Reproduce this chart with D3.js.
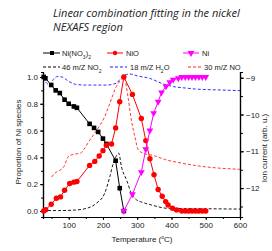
<!DOCTYPE html>
<html>
<head>
<meta charset="utf-8">
<script src="https://d3js.org/d3.v7.min.js"></script>
<style>
  body { margin: 0; background: #fff; }
  svg text { font-family: "Liberation Sans", Arial, sans-serif; fill: #222; }
  .title { font-family: "Open Sans", sans-serif !important; font-style: italic; font-size: 11px; }
  .axis text { font-size: 8px; }
  .axis path, .axis line { stroke: #000; }
</style>
</head>
<body>
<svg id="chart" width="272" height="251"></svg>
<script>
// fractions from the linear combination fit
var tNitrate = [27, 32, 49, 62, 74, 88, 100, 115, 124, 161, 174, 186, 200, 210, 237, 249, 261];
var vNitrate = [1.0, 0.99, 0.94, 0.90, 0.88, 0.83, 0.80, 0.78, 0.77, 0.65, 0.62, 0.59, 0.54, 0.50, 0.375, 0.17, 0.0];
var eNitrate = [0.015, 0.015, 0.012, 0.015, 0.012, 0.015, 0.012, 0.015, 0.015, 0.012, 0.015, 0.012, 0.012, 0.015, 0.015, 0.015, 0.01];

var tNiO = [27, 33, 49, 64, 76, 88, 103, 115, 124, 161, 176, 189, 200, 210, 225, 237, 249, 261, 286, 312, 325, 337, 349, 361, 373, 383, 390, 403, 415, 430, 440, 450, 460, 470, 480, 490, 500];
var vNiO = [0.0, 0.01, 0.05, 0.095, 0.105, 0.155, 0.205, 0.215, 0.22, 0.34, 0.37, 0.41, 0.45, 0.49, 0.50, 0.62, 0.815, 1.0, 0.87, 0.69, 0.525, 0.39, 0.27, 0.16, 0.11, 0.07, 0.045, 0.02, 0.008, 0.0, 0.0, 0.0, 0.0, 0.0, 0.0, 0.0, 0.0];

var tNi = [261, 286, 312, 325, 337, 348, 361, 371, 384, 395, 405, 420, 430, 440, 450, 460, 470, 480, 490, 500];
var vNi = [0.0, 0.125, 0.29, 0.46, 0.60, 0.73, 0.815, 0.885, 0.93, 0.96, 0.98, 0.99, 1.0, 1.0, 1.0, 1.0, 1.0, 1.0, 1.0, 1.0];

// mass spec ion currents (log scale, right axis)
var tNO2 = [25, 70, 113, 152, 181, 205, 220, 230, 241, 246, 254, 269, 283, 298, 310, 342, 390, 488, 600];
var iNO2 = [-12.61, -12.61, -12.6, -12.55, -12.41, -12.14, -11.69, -11.33, -11.1, -11.05, -11.42, -11.78, -12.14, -12.32, -12.37, -12.46, -12.55, -12.56, -12.57];

var tH2O = [33, 45, 55, 65, 80, 100, 120, 150, 180, 210, 239, 250, 262, 278, 300, 337, 376, 405, 440, 473, 530, 600];
var iH2O = [-9.12, -9.2, -9.05, -8.97, -8.98, -9.1, -9.18, -9.2, -9.2, -9.2, -9.15, -9.04, -8.94, -8.9, -8.95, -9.02, -9.17, -9.24, -9.28, -9.31, -9.33, -9.35];

var tNO = [50, 60, 75, 85, 100, 115, 135, 145, 160, 180, 205, 220, 239, 255, 262, 273, 283, 293, 303, 317, 350, 380, 430, 480, 530, 600];
var iNO = [-11.70, -11.59, -11.51, -11.43, -11.13, -11.08, -11.05, -10.94, -10.72, -10.45, -10.06, -9.7, -9.24, -9.04, -8.99, -9.52, -10.15, -10.6, -10.96, -11.05, -11.12, -11.22, -11.32, -11.4, -11.45, -11.49];

var xTicks = [100, 200, 300, 400, 500, 600];
var yTicks = [0, 0.2, 0.4, 0.6, 0.8, 1.0];
var y2Ticks = [-9, -10, -11, -12];

var svg = d3.select("#chart");

var x = d3.scaleLinear().domain([25, 600]).range([43, 240]);
var y = d3.scaleLinear().domain([-0.045, 1.037]).range([217, 72]);
var y2 = d3.scaleLinear().domain([-12.785, -8.845]).range([217, 72]);

// title
svg.append("text").attr("class", "title").attr("x", 53).attr("y", 17).text("Linear combination fitting in the nickel");
svg.append("text").attr("class", "title").attr("x", 53).attr("y", 31).text("NEXAFS region");

// axes
svg.append("g").attr("class", "axis").attr("transform", "translate(0,217)")
  .call(d3.axisBottom(x).tickValues(d3.range(50, 601, 50)).tickSize(2).tickFormat(""));
svg.append("g").attr("class", "axis").attr("transform", "translate(0,217)")
  .call(d3.axisBottom(x).tickValues(xTicks).tickSize(3).tickSizeOuter(0).tickPadding(2));

svg.append("g").attr("class", "axis").attr("transform", "translate(43,0)")
  .call(d3.axisLeft(y).tickValues(d3.range(0, 1.01, 0.1)).tickSize(2).tickFormat(""));
svg.append("g").attr("class", "axis").attr("transform", "translate(43,0)")
  .call(d3.axisLeft(y).tickValues(yTicks).tickSize(3).tickSizeOuter(0).tickPadding(2).tickFormat(d3.format(".1f")));

svg.append("g").attr("class", "axis").attr("transform", "translate(240,0)")
  .call(d3.axisRight(y2).tickValues([-9, -9.5, -10, -10.5, -11, -11.5, -12, -12.5]).tickSize(3).tickFormat(""));
svg.append("g").attr("class", "axis").attr("transform", "translate(240,0)")
  .call(d3.axisRight(y2).tickValues(y2Ticks).tickSize(4).tickSizeOuter(0).tickPadding(2).tickFormat(d3.format("d")));

svg.selectAll(".axis .domain").attr("stroke-width", 1.2);

// axis titles
svg.append("text").attr("transform", "translate(21,142) rotate(-90)")
  .attr("text-anchor", "middle").style("font-size", "8px").text("Proportion of Ni species");
svg.append("text").attr("transform", "translate(267,148) rotate(-90)")
  .attr("text-anchor", "middle").style("font-size", "8px").text("Ion current (arb. u.)");
var xl = svg.append("text").attr("x", 142).attr("y", 242).attr("text-anchor", "middle").style("font-size", "8px");
xl.append("tspan").text("Temperature (");
xl.append("tspan").attr("baseline-shift", "super").style("font-size", "5px").text("o");
xl.append("tspan").text("C)");

// dashed ion current lines
function zipT(ts, vs) { return ts.map(function(t, i) { return [t, vs[i]]; }); }
var line2 = d3.line().x(function(d) { return x(d[0]); }).y(function(d) { return y2(d[1]); }).curve(d3.curveMonotoneX);

svg.append("path").datum(zipT(tNO2, iNO2)).attr("d", line2)
  .attr("fill", "none").attr("stroke", "#000").attr("stroke-width", 0.9).attr("stroke-dasharray", "3,2");
svg.append("path").datum(zipT(tH2O, iH2O)).attr("d", line2)
  .attr("fill", "none").attr("stroke", "#1a1aff").attr("stroke-width", 0.9).attr("stroke-dasharray", "3,2");
svg.append("path").datum(zipT(tNO, iNO)).attr("d", line2)
  .attr("fill", "none").attr("stroke", "#ff2020").attr("stroke-width", 0.9).attr("stroke-dasharray", "3,2");

// fit fractions
var line1 = d3.line().x(function(d) { return x(d[0]); }).y(function(d) { return y(d[1]); });

var nit = zipT(tNitrate, vNitrate);
svg.append("path").datum(nit).attr("d", line1).attr("fill", "none").attr("stroke", "#000").attr("stroke-width", 1);
svg.append("g").selectAll("line").data(nit).join("line")
  .attr("x1", function(d) { return x(d[0]); }).attr("x2", function(d) { return x(d[0]); })
  .attr("y1", function(d, i) { return y(d[1] - eNitrate[i]); })
  .attr("y2", function(d, i) { return y(d[1] + eNitrate[i]); })
  .attr("stroke", "#000").attr("stroke-width", 1);
svg.append("g").selectAll("rect").data(nit).join("rect")
  .attr("x", function(d) { return x(d[0]) - 2.3; }).attr("y", function(d) { return y(d[1]) - 2.3; })
  .attr("width", 4.6).attr("height", 4.6).attr("fill", "#000");

var nio = zipT(tNiO, vNiO);
svg.append("path").datum(nio).attr("d", line1).attr("fill", "none").attr("stroke", "#ff0000").attr("stroke-width", 1);
svg.append("g").selectAll("circle").data(nio).join("circle")
  .attr("cx", function(d) { return x(d[0]); }).attr("cy", function(d) { return y(d[1]); })
  .attr("r", 2.7).attr("fill", "#ff0000");

var ni = zipT(tNi, vNi);
svg.append("path").datum(ni).attr("d", line1).attr("fill", "none").attr("stroke", "#ff00ff").attr("stroke-width", 1);
var tri = d3.symbol().type(d3.symbolTriangle).size(20);
svg.append("g").selectAll("path").data(ni).join("path")
  .attr("d", tri)
  .attr("transform", function(d) { return "translate(" + x(d[0]) + "," + y(d[1]) + ") rotate(180)"; })
  .attr("fill", "#ff00ff");

// legend
function sub(t, main, s) {
  t.append("tspan").text(main);
  t.append("tspan").attr("baseline-shift", "sub").style("font-size", "5px").text(s);
}
var lg = svg.append("g").style("font-size", "7.5px");

lg.append("line").attr("x1", 43).attr("x2", 60).attr("y1", 53).attr("y2", 53).attr("stroke", "#000");
lg.append("rect").attr("x", 50).attr("y", 51).attr("width", 4).attr("height", 4).attr("fill", "#000");
var t1 = lg.append("text").attr("x", 62).attr("y", 56);
sub(t1, "Ni(NO", "3");
t1.append("tspan").text(")");
t1.append("tspan").attr("baseline-shift", "sub").style("font-size", "5px").text("2");

lg.append("line").attr("x1", 107).attr("x2", 123).attr("y1", 53).attr("y2", 53).attr("stroke", "#ff0000");
lg.append("circle").attr("cx", 115).attr("cy", 53).attr("r", 2.2).attr("fill", "#ff0000");
lg.append("text").attr("x", 126).attr("y", 56).text("NiO");

lg.append("line").attr("x1", 183).attr("x2", 199).attr("y1", 53).attr("y2", 53).attr("stroke", "#ff00ff");
lg.append("path").attr("d", tri).attr("transform", "translate(191,53) rotate(180)").attr("fill", "#ff00ff");
lg.append("text").attr("x", 202).attr("y", 56).text("Ni");

lg.append("line").attr("x1", 43).attr("x2", 60).attr("y1", 67).attr("y2", 67).attr("stroke", "#000").attr("stroke-dasharray", "3,2");
sub(lg.append("text").attr("x", 62).attr("y", 70), "46 m/Z NO", "2");

lg.append("line").attr("x1", 110).attr("x2", 127).attr("y1", 67).attr("y2", 67).attr("stroke", "#1a1aff").attr("stroke-dasharray", "3,2");
var t5 = lg.append("text").attr("x", 130).attr("y", 70);
sub(t5, "18 m/Z H", "2");
t5.append("tspan").text("O");

lg.append("line").attr("x1", 188).attr("x2", 202).attr("y1", 67).attr("y2", 67).attr("stroke", "#ff2020").attr("stroke-dasharray", "3,2");
lg.append("text").attr("x", 204).attr("y", 70).text("30 m/Z NO");
</script>
</body>
</html>
